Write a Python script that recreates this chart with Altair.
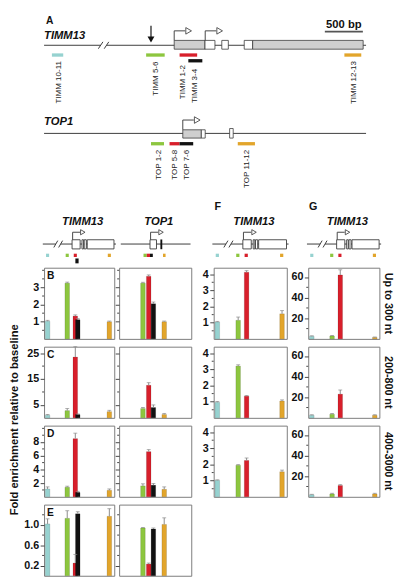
import altair as alt
import pandas as pd

FONT = "Liberation Sans"
COLOR_NAMES = ["cyan", "green", "red", "black", "orange"]
COLOR_HEX = ["#96d2d0", "#8dc63f", "#d81f2b", "#111111", "#e2a52b"]

# ---------------- Panel A: gene maps (bp) ----------------
timm_line_from = [0, 821]
timm_line_to = [744, 4234]
timm_break_at = [744, 821]
timm_exon_from = [1711, 2116, 2337, 2632, 2743]
timm_exon_to = [2116, 2247, 2423, 2743, 4196]
timm_exon_type = ["coding", "utr", "utr", "utr", "coding"]
timm_tss = [1711, 2119]
timm_site = [1406]
timm_primers = ["TIMM 10-11", "TIMM 5-6", "TIMM 1-2", "TIMM  3-4", "TIMM 12-13"]
timm_primer_col = ["cyan", "green", "red", "black", "orange"]
timm_primer_from = [103, 1342, 1782, 1897, 3949]
timm_primer_to = [252, 1586, 2013, 2081, 4171]
timm_label_bp = [196, 1470, 1833, 1983, 4077]

top_line_from = [0]
top_line_to = [4234]
top_exon_from = [1824, 2068, 2440]
top_exon_to = [2068, 2119, 2487]
top_exon_type = ["coding", "utr", "utr"]
top_tss = [1824]
top_primers = ["TOP 1-2", "TOP 5-8", "TOP 7-6", "TOP 11-12"]
top_primer_col = ["green", "red", "black", "orange"]
top_primer_from = [1406, 1650, 1782, 2547]
top_primer_to = [1577, 1782, 1961, 2773]
top_label_bp = [1513, 1727, 1876, 2667]
scale_bar_bp = [3692, 4192]

# ---------------- mini gene sketches (panel units 0-100) ----------------
mini_timm_line_from = [-1.8, 23.6]
mini_timm_line_to = [16.7, 102.4]
mini_timm_break_at = [16.7, 23.6]
mini_timm_exon_from = [39.9, 54.0, 57.2, 61.5]
mini_timm_exon_to = [51.4, 56.3, 60.2, 99.6]
mini_timm_tss = [40.7]
mini_timm_primer_col = ["cyan", "green", "red", "orange"]
mini_timm_primer_from = [2.8, 30.8, 42.3, 90.8]
mini_timm_primer_to = [7.2, 35.2, 46.7, 95.2]
mini_timm_marker = [44.6, 49.2]

mini_top_line_from = [2.3]
mini_top_line_to = [99.0]
mini_top_exon_from = [42.8]
mini_top_exon_to = [51.8]
mini_top_solid = [57.2, 59.8]
mini_top_tss = [43.6]
mini_top_primer_col = ["green", "red", "black", "orange"]
mini_top_primer_from = [33.8, 38.3, 42.8, 60.8]
mini_top_primer_to = [38.3, 42.8, 46.7, 64.4]

# ---------------- bar data ----------------
timm_bar_pos = [5, 33, 44.5, 48, 93]
timm_bar_col = ["cyan", "green", "red", "black", "orange"]
top_bar_pos = [33, 41, 47.5, 62.5]
top_bar_col = ["green", "red", "black", "orange"]
fg_bar_pos = [5, 33.5, 45, 93.5]
fg_bar_col = ["cyan", "green", "red", "orange"]

B_timm = [1.03, 3.25, 1.33, 1.12, 1.0]
B_timm_err = [0.05, 0.06, 0.07, 0.06, 0.04]
B_top = [3.25, 3.65, 2.05, 1.0]
B_top_err = [0.05, 0.08, 0.1, 0.04]
C_timm = [1.0, 2.8, 23.5, 1.3, 2.4]
C_timm_err = [0.3, 0.8, 4.0, 0.2, 0.5]
C_top = [3.6, 12.6, 4.0, 1.3]
C_top_err = [0.4, 1.0, 1.0, 0.4]
D_timm = [1.15, 1.4, 8.5, 0.65, 0.95]
D_timm_err = [0.3, 0.15, 0.8, 0.15, 0.2]
D_top = [1.6, 6.6, 1.7, 1.1]
D_top_err = [0.3, 0.3, 0.25, 0.35]
E_timm = [1.02, 1.13, 0.25, 1.22, 1.17]
E_timm_err = [0.1, 0.15, 0.17, 0.04, 0.15]
E_top = [0.94, 0.23, 0.92, 1.01]
E_top_err = [0.01, 0.02, 0.02, 0.13]

F_300 = [1.04, 1.15, 4.12, 1.55]
F_300_err = [0.04, 0.2, 0.1, 0.2]
F_800 = [0.96, 3.2, 1.34, 1.04]
F_800_err = [0.05, 0.08, 0.04, 0.07]
F_3000 = [1.02, 1.95, 2.25, 1.55]
F_3000_err = [0.03, 0.04, 0.15, 0.1]
G_300 = [2.5, 2.8, 62.0, 1.5]
G_300_err = [0.5, 0.5, 5.0, 0.3]
G_800 = [2.5, 3.5, 23.0, 2.5]
G_800_err = [0.5, 0.7, 4.0, 0.5]
G_3000 = [2.0, 2.8, 11.0, 2.8]
G_3000_err = [0.4, 0.6, 0.8, 0.6]

row_labels = ["Up to 300 nt", "200-800 nt", "400-3000 nt"]
y_title = "Fold enrichment relative to baseline"

PH = 73  # panel height
NOBORDER = alt.ViewBackground(strokeOpacity=0)
SH = -7.5  # vertical shift of panel A layout (page margin compensation)


def color_scale():
    return alt.Scale(domain=COLOR_NAMES, range=COLOR_HEX)


def txt(df, **kw):
    base = dict(font=FONT, color="#111")
    base.update(kw)
    return alt.Chart(df).mark_text(**base)


# ---------------- panel A ----------------
def panel_a():
    xs = alt.Scale(domain=[0, 4230], padding=0, nice=False, zero=False)
    ys = alt.Scale(domain=[0, 200], reverse=True, padding=0, nice=False, zero=False)

    def AX(f):
        return alt.X(f, type="quantitative", scale=xs, axis=None)

    def AY(f):
        return alt.Y(f, type="quantitative", scale=ys, axis=None)

    def s(v):
        return v + SH

    L = []
    lines = pd.DataFrame({"x": timm_line_from + top_line_from,
                          "x2": timm_line_to + top_line_to,
                          "y": [s(38.3)] * len(timm_line_from) + [s(128.7)] * len(top_line_from)})
    L.append(alt.Chart(lines).mark_rule(color="#3a3a3a", strokeWidth=1).encode(
        x=AX("x"), x2="x2", y=AY("y")))
    brk = pd.DataFrame({"x": [b - 30 for b in timm_break_at], "x2": [b + 30 for b in timm_break_at],
                        "y": [s(41.8)] * 2, "y2": [s(34.8)] * 2})
    L.append(alt.Chart(brk).mark_rule(color="#3a3a3a", strokeWidth=1).encode(
        x=AX("x"), x2="x2", y=AY("y"), y2="y2"))
    sb = pd.DataFrame({"x": [scale_bar_bp[0]], "x2": [scale_bar_bp[1]], "y": [s(24.3)]})
    L.append(alt.Chart(sb).mark_rule(color="#555", strokeWidth=1.6).encode(
        x=AX("x"), x2="x2", y=AY("y")))
    ex = pd.DataFrame({"x": timm_exon_from + top_exon_from,
                       "x2": timm_exon_to + top_exon_to,
                       "y": [s(33.3)] * 5 + [s(125), s(125), s(123.7)],
                       "y2": [s(42.3)] * 5 + [s(133.5)] * 3,
                       "kind": timm_exon_type + top_exon_type})
    L.append(alt.Chart(ex).mark_rect(stroke="#3a3a3a", strokeWidth=0.8).encode(
        x=AX("x"), x2="x2", y=AY("y"), y2="y2",
        fill=alt.Fill("kind:N", scale=alt.Scale(domain=["coding", "utr"], range=["#cfcfcf", "#ffffff"]),
                      legend=None)))
    tss = pd.DataFrame({"x": timm_tss + top_tss, "yb": [s(33.3), s(33.3), s(125)],
                        "yt": [s(23.5), s(23.5), s(115)]})
    tss["xe"] = tss["x"] + 145
    tss["xh"] = tss["x"] + 190
    L.append(alt.Chart(tss).mark_rule(color="#444", strokeWidth=1).encode(
        x=AX("x"), y=AY("yb"), y2="yt"))
    L.append(alt.Chart(tss).mark_rule(color="#444", strokeWidth=1).encode(
        x=AX("x"), x2="xe", y=AY("yt")))
    L.append(alt.Chart(tss).mark_point(shape="triangle-right", filled=True, fill="white",
                                       stroke="#444", strokeWidth=0.9, size=45, opacity=1).encode(
        x=AX("xh"), y=AY("yt")))
    site = pd.DataFrame({"x": timm_site, "y": [s(18.3)], "y2": [s(30.0)], "yh": [s(32.3)]})
    L.append(alt.Chart(site).mark_rule(color="#111", strokeWidth=1.2).encode(
        x=AX("x"), y=AY("y"), y2="y2"))
    L.append(alt.Chart(site).mark_point(shape="triangle-down", filled=True, color="#111",
                                        size=50, opacity=1).encode(x=AX("x"), y=AY("yh")))
    pr = pd.DataFrame({"x": timm_primer_from + top_primer_from,
                       "x2": timm_primer_to + top_primer_to,
                       "col": timm_primer_col + top_primer_col,
                       "yc": [s(v) for v in [48.3, 48.3, 48.3, 54.2, 48.3] + [139.3] * 4]})
    pr["y"] = pr["yc"] - 1.7
    pr["y2"] = pr["yc"] + 1.7
    L.append(alt.Chart(pr).mark_rect().encode(
        x=AX("x"), x2="x2", y=AY("y"), y2="y2",
        color=alt.Color("col:N", scale=color_scale(), legend=None)))
    lab = pd.DataFrame({"x": timm_label_bp + top_label_bp,
                        "y": [s(v) for v in [54.5, 55, 58.5, 62.5, 54.5] + [145.5] * 4],
                        "t": timm_primers + top_primers})
    L.append(txt(lab, angle=270, align="right", baseline="middle", fontSize=8.2, color="#222").encode(
        x=AX("x"), y=AY("y"), text="t:N"))
    heads = pd.DataFrame({"x": [0, 0], "y": [s(29), s(117.5)], "t": ["TIMM13", "TOP1"]})
    L.append(txt(heads, align="left", baseline="middle", fontSize=11.5, fontWeight="bold",
                 fontStyle="italic").encode(x=AX("x"), y=AY("y"), text="t:N"))
    lt = pd.DataFrame({"x": [26], "y": [6], "t": ["A"]})
    L.append(txt(lt, align="left", baseline="middle", fontSize=10.5, fontWeight="bold").encode(
        x=AX("x"), y=AY("y"), text="t:N"))
    sbt = pd.DataFrame({"x": [(scale_bar_bp[0] + scale_bar_bp[1]) / 2], "y": [s(16) + 2], "t": ["500 bp"]})
    L.append(txt(sbt, align="center", baseline="middle", fontSize=11.5, fontWeight="bold").encode(
        x=AX("x"), y=AY("y"), text="t:N"))
    return alt.layer(*L).properties(width=330, height=200, view=NOBORDER)


# ---------------- mini gene sketches ----------------
def mini(gene, width, header, letter=None, with_marker=False):
    xs = alt.Scale(domain=[0, 100], padding=0, nice=False, zero=False)
    ys = alt.Scale(domain=[0, 30], reverse=True, padding=0, nice=False, zero=False)

    def MX(f):
        return alt.X(f, type="quantitative", scale=xs, axis=None)

    def MY(f):
        return alt.Y(f, type="quantitative", scale=ys, axis=None)

    L = []
    if gene == "TIMM13":
        lf, lt_, ef, et = mini_timm_line_from, mini_timm_line_to, mini_timm_exon_from, mini_timm_exon_to
        tssx = mini_timm_tss
        pf, pt, pc = mini_timm_primer_from, mini_timm_primer_to, mini_timm_primer_col
    else:
        lf, lt_, ef, et = mini_top_line_from, mini_top_line_to, mini_top_exon_from, mini_top_exon_to
        tssx = mini_top_tss
        pf, pt, pc = mini_top_primer_from, mini_top_primer_to, mini_top_primer_col
    ln = pd.DataFrame({"x": lf, "x2": lt_, "y": [13.7] * len(lf)})
    L.append(alt.Chart(ln).mark_rule(color="#3a3a3a", strokeWidth=1).encode(x=MX("x"), x2="x2", y=MY("y")))
    if gene == "TIMM13":
        bk = pd.DataFrame({"x": [b - 2.8 for b in mini_timm_break_at], "x2": [b + 2.8 for b in mini_timm_break_at],
                           "y": [17.2] * 2, "y2": [10.2] * 2})
        L.append(alt.Chart(bk).mark_rule(color="#3a3a3a", strokeWidth=1).encode(
            x=MX("x"), x2="x2", y=MY("y"), y2="y2"))
    ex = pd.DataFrame({"x": ef, "x2": et, "y": [9.3] * len(ef), "y2": [18.7] * len(ef)})
    L.append(alt.Chart(ex).mark_rect(fill="white", stroke="#3a3a3a", strokeWidth=0.9).encode(
        x=MX("x"), x2="x2", y=MY("y"), y2="y2"))
    if gene == "TOP1":
        so = pd.DataFrame({"x": [mini_top_solid[0]], "x2": [mini_top_solid[1]], "y": [9.0], "y2": [19.0]})
        L.append(alt.Chart(so).mark_rect(color="#111").encode(x=MX("x"), x2="x2", y=MY("y"), y2="y2"))
    ts = pd.DataFrame({"x": tssx, "yb": [9.3], "yt": [1.6]})
    ts["xe"] = ts["x"] + 10.5
    ts["xh"] = ts["x"] + 14.5
    L.append(alt.Chart(ts).mark_rule(color="#444", strokeWidth=1).encode(x=MX("x"), y=MY("yb"), y2="yt"))
    L.append(alt.Chart(ts).mark_rule(color="#444", strokeWidth=1).encode(x=MX("x"), x2="xe", y=MY("yt")))
    L.append(alt.Chart(ts).mark_point(shape="triangle-right", filled=True, fill="white", stroke="#444",
                                      strokeWidth=0.9, size=28, opacity=1).encode(x=MX("xh"), y=MY("yt")))
    pr = pd.DataFrame({"x": pf, "x2": pt, "col": pc, "y": [23.6] * len(pf), "y2": [27.0] * len(pf)})
    if with_marker:
        pr = pd.concat([pr, pd.DataFrame({"x": [mini_timm_marker[0]], "x2": [mini_timm_marker[1]],
                                          "col": ["black"], "y": [28.5], "y2": [33.5]})])
    L.append(alt.Chart(pr).mark_rect().encode(x=MX("x"), x2="x2", y=MY("y"), y2="y2",
                                              color=alt.Color("col:N", scale=color_scale(), legend=None)))
    hd = pd.DataFrame({"x": [55], "y": [-9], "t": [header]})
    L.append(txt(hd, align="center", baseline="middle", fontSize=11.5, fontWeight="bold",
                 fontStyle="italic").encode(x=MX("x"), y=MY("y"), text="t:N"))
    if letter:
        lt = pd.DataFrame({"x": [1.0], "y": [-24], "t": [letter]})
        L.append(txt(lt, align="left", baseline="middle", fontSize=11, fontWeight="bold").encode(
            x=MX("x"), y=MY("y"), text="t:N"))
    return alt.layer(*L).properties(width=width, height=30, view=NOBORDER)


# ---------------- bar panels ----------------
def panel(pos, cols, vals, errs, domain, labeled, minor, fmt, width, show_labels=True,
          letter=None, side=None, ytitle=False):
    df = pd.DataFrame({"pos": pos, "col": cols, "val": vals,
                       "hi": [v + e for v, e in zip(vals, errs)]})
    xs = alt.Scale(domain=[0, 100], padding=0, nice=False, zero=False)
    ys = alt.Scale(domain=domain, nice=False, padding=0)

    def axis():
        return alt.Axis(values=labeled, format=fmt, labels=show_labels, title=None, domain=False,
                        grid=False, labelOverlap=False, labelFlush=False, labelBound=False, tickSize=4,
                        tickColor="#444", labelFont=FONT, labelFontSize=11, labelFontWeight="bold",
                        labelColor="#111", labelPadding=1.5, labelSeparation=0)

    X = alt.X("pos:Q", scale=xs, axis=None)
    base = alt.Chart(df)
    L = [
        base.mark_bar(size=4.7, stroke="#000", strokeOpacity=0.25, strokeWidth=0.5).encode(
            x=X, y=alt.Y("val:Q", scale=ys, axis=axis()),
            color=alt.Color("col:N", scale=color_scale(), legend=None)),
        base.mark_rule(color="#8a8a8a", strokeWidth=1).encode(
            x=X, y=alt.Y("val:Q", scale=ys, axis=axis()), y2="hi:Q"),
        base.mark_tick(color="#8a8a8a", orient="horizontal", size=4, thickness=1).encode(
            x=X, y=alt.Y("hi:Q", scale=ys, axis=axis())),
        alt.Chart(pd.DataFrame({"m": minor})).mark_rule(color="#444", strokeWidth=1).encode(
            x=alt.value(-2), x2=alt.value(0), y=alt.Y("m:Q", scale=ys, axis=axis())),
    ]
    if letter:
        L.append(txt(pd.DataFrame({"t": [letter]}), align="left", baseline="middle", fontSize=10.5,
                     fontWeight="bold").encode(x=alt.value(3), y=alt.value(9), text="t:N"))
    if side:
        L.append(txt(pd.DataFrame({"t": [side]}), align="center", baseline="middle", fontSize=11,
                     fontWeight="bold", angle=90).encode(x=alt.value(width + 9), y=alt.value(PH / 2),
                                                         text="t:N"))
    if ytitle:
        L.append(txt(pd.DataFrame({"t": [y_title]}), align="center", baseline="middle", fontSize=11.5,
                     fontWeight="bold", angle=270).encode(x=alt.value(-30), y=alt.value(-6), text="t:N"))
    return alt.layer(*L).properties(width=width, height=PH)


def blank(width, height):
    return alt.Chart(pd.DataFrame({"a": [0]})).mark_point(opacity=0).encode(
        x=alt.value(0), y=alt.value(0)).properties(width=width, height=height, view=NOBORDER)


W1, W2, W3, W4 = 72, 74, 75, 73
S1, S2 = 13, 12  # extra gaps before the F and G columns
lB, mB = [1, 2, 3], [0.5, 1.5, 2.5, 3.5, 4]
lC, mC = [5, 15, 25], [10, 20]
lD, mD = [2, 4, 6, 8], [1, 3, 5, 7, 9, 10]
lE, mE = [0.2, 0.6, 1.0], [0.4, 0.8, 1.2]
lF, mF = [1, 2, 3, 4], [0.5, 1.5, 2.5, 3.5]
lG, mG = [20, 40, 60], [10, 30, 50]

cells = [
    # row 0: gene sketches
    mini("TIMM13", W1, "TIMM13", with_marker=True), mini("TOP1", W2, "TOP1"), blank(S1, 1),
    mini("TIMM13", W3, "TIMM13", letter="F"), blank(S2, 1), mini("TIMM13", W4, "TIMM13", letter="G"),
    # row 1
    panel(timm_bar_pos, timm_bar_col, B_timm, B_timm_err, [0, 4.15], lB, mB, "d", W1, letter="B"),
    panel(top_bar_pos, top_bar_col, B_top, B_top_err, [0, 4.15], lB, mB, "d", W2, show_labels=False),
    blank(S1, 1),
    panel(fg_bar_pos, fg_bar_col, F_300, F_300_err, [0, 4.4], lF, mF, "d", W3),
    blank(S2, 1),
    panel(fg_bar_pos, fg_bar_col, G_300, G_300_err, [0, 69], lG, mG, "d", W4, side=row_labels[0]),
    # row 2
    panel(timm_bar_pos, timm_bar_col, C_timm, C_timm_err, [0, 27.5], lC, mC, "d", W1, letter="C"),
    panel(top_bar_pos, top_bar_col, C_top, C_top_err, [0, 27.5], lC, mC, "d", W2, show_labels=False),
    blank(S1, 1),
    panel(fg_bar_pos, fg_bar_col, F_800, F_800_err, [0, 4.4], lF, mF, "d", W3),
    blank(S2, 1),
    panel(fg_bar_pos, fg_bar_col, G_800, G_800_err, [0, 69], lG, mG, "d", W4, side=row_labels[1]),
    # row 3
    panel(timm_bar_pos, timm_bar_col, D_timm, D_timm_err, [0, 10.4], lD, mD, "d", W1, letter="D",
          ytitle=True),
    panel(top_bar_pos, top_bar_col, D_top, D_top_err, [0, 10.4], lD, mD, "d", W2, show_labels=False),
    blank(S1, 1),
    panel(fg_bar_pos, fg_bar_col, F_3000, F_3000_err, [0, 4.4], lF, mF, "d", W3),
    blank(S2, 1),
    panel(fg_bar_pos, fg_bar_col, G_3000, G_3000_err, [0, 69], lG, mG, "d", W4, side=row_labels[2]),
    # row 4
    panel(timm_bar_pos, timm_bar_col, E_timm, E_timm_err, [0, 1.4], lE, mE, ".1f", W1, letter="E"),
    panel(top_bar_pos, top_bar_col, E_top, E_top_err, [0, 1.4], lE, mE, ".1f", W2, show_labels=False),
    blank(S1, 1), blank(W3, 1), blank(S2, 1), blank(W4, 1),
]

grid = alt.concat(*cells, columns=6, spacing={"row": 8, "column": 5}, align="each", bounds="flush")

chart = alt.vconcat(panel_a(), grid, spacing=21, bounds="flush").properties(
    padding=0, background="white"
).configure_view(stroke="#7a7a7a", strokeWidth=1).configure_axis(
    labelFont=FONT, grid=False, labelOverlap=False, labelFlush=False
)

chart.save("out.html", embed_options={"renderer": "svg", "actions": False})
